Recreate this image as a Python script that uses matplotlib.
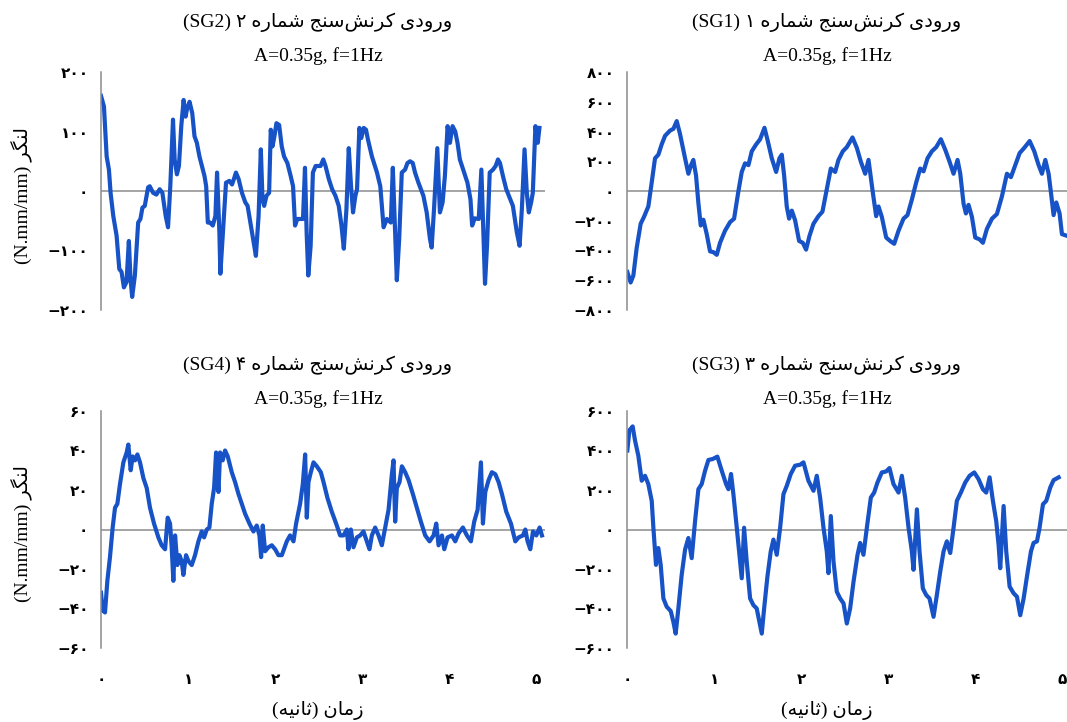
import re
import matplotlib.pyplot as plt
from matplotlib.ticker import FuncFormatter


# strain gauge SG1 (top right)
t_sg1 = [0.004, 0.042, 0.073, 0.111, 0.157, 0.195, 0.245, 0.284, 0.322, 0.36,
         0.398, 0.437, 0.494, 0.533, 0.571, 0.609, 0.667, 0.705, 0.736, 0.762,
         0.793, 0.82, 0.847, 0.877, 0.916, 0.954, 0.992, 1.031, 1.069, 1.126,
         1.184, 1.23, 1.28, 1.318, 1.356, 1.395, 1.433, 1.483, 1.529, 1.579,
         1.617, 1.663, 1.713, 1.751, 1.778, 1.805, 1.835, 1.862, 1.893, 1.931,
         1.977, 2.019, 2.057, 2.096, 2.142, 2.199, 2.245, 2.295, 2.341, 2.391,
         2.429, 2.479, 2.525, 2.59, 2.64, 2.686, 2.736, 2.774, 2.824, 2.862,
         2.889, 2.927, 2.977, 3.023, 3.069, 3.119, 3.176, 3.222, 3.272, 3.322,
         3.368, 3.406, 3.452, 3.502, 3.552, 3.605, 3.655, 3.705, 3.751, 3.797,
         3.828, 3.866, 3.893, 3.923, 3.962, 4.0, 4.05, 4.088, 4.134, 4.192,
         4.249, 4.307, 4.364, 4.41, 4.46, 4.51, 4.563, 4.625, 4.678, 4.728,
         4.766, 4.805, 4.843, 4.87, 4.9, 4.931, 4.969, 4.996, 5.057]
v_sg1 = [-545, -615, -568, -383, -220, -174, -104, 58, 220, 244,
         313, 371, 406, 418, 470, 383, 220, 116, 174, 209,
         104, -81, -232, -193, -290, -406, -411, -429, -348, -267,
         -209, -186, 0, 128, 186, 174, 267, 313, 348, 425,
         336, 220, 128, 220, 244, 104, -104, -186, -132, -197,
         -336, -348, -394, -302, -220, -169, -139, 12, 151, 128,
         209, 267, 295, 360, 290, 197, 116, 209, -12, -169,
         -104, -174, -313, -336, -355, -267, -186, -162, -58, 58,
         151, 132, 220, 267, 295, 348, 278, 197, 116, 209,
         116, -86, -151, -93, -174, -313, -325, -348, -255, -186,
         -155, -35, 116, 93, 174, 255, 290, 336, 267, 174,
         116, 209, 116, -12, -162, -77, -151, -290, -302]

# strain gauge SG2 (top left)
t_sg2 = [0.0, 0.034, 0.065, 0.091, 0.11, 0.141, 0.179, 0.21, 0.236, 0.263,
         0.293, 0.32, 0.339, 0.358, 0.389, 0.427, 0.453, 0.476, 0.503, 0.541,
         0.56, 0.598, 0.636, 0.674, 0.705, 0.743, 0.77, 0.796, 0.827, 0.846,
         0.872, 0.895, 0.922, 0.949, 0.971, 0.99, 1.017, 1.048, 1.074, 1.101,
         1.131, 1.189, 1.208, 1.227, 1.253, 1.284, 1.314, 1.333, 1.36, 1.371,
         1.398, 1.436, 1.474, 1.505, 1.531, 1.55, 1.581, 1.619, 1.657, 1.684,
         1.722, 1.76, 1.779, 1.81, 1.836, 1.855, 1.874, 1.901, 1.931, 1.95,
         1.97, 1.992, 2.015, 2.046, 2.076, 2.103, 2.141, 2.179, 2.206, 2.229,
         2.255, 2.293, 2.32, 2.343, 2.362, 2.381, 2.408, 2.434, 2.465, 2.522,
         2.553, 2.579, 2.617, 2.655, 2.693, 2.731, 2.762, 2.789, 2.819, 2.846,
         2.872, 2.895, 2.922, 2.941, 2.968, 2.99, 3.017, 3.044, 3.067, 3.112,
         3.17, 3.208, 3.246, 3.284, 3.329, 3.352, 3.375, 3.398, 3.425, 3.455,
         3.493, 3.52, 3.55, 3.581, 3.607, 3.646, 3.703, 3.741, 3.779, 3.798,
         3.825, 3.863, 3.893, 3.924, 3.95, 3.981, 4.008, 4.038, 4.069, 4.095,
         4.122, 4.16, 4.209, 4.244, 4.263, 4.293, 4.339, 4.369, 4.389, 4.411,
         4.434, 4.465, 4.503, 4.533, 4.56, 4.583, 4.617, 4.655, 4.701, 4.731,
         4.777, 4.808, 4.834, 4.865, 4.891, 4.914, 4.941, 4.96, 4.99, 5.017,
         5.036]
v_sg2 = [160, 142, 58, 36, -3, -42, -75, -131, -136, -162,
         -153, -84, -148, -178, -142, -53, -47, -28, -25, 6,
         8, -3, -6, 3, -3, -42, -61, 8, 120, 53,
         28, 42, 109, 153, 125, 139, 150, 131, 92, 81,
         58, 25, 8, -53, -53, -58, -42, 31, -70, -139,
         -75, 14, 17, 11, 22, 31, 20, -3, -19, -25,
         -58, -92, -109, -42, 70, -14, -25, -8, -3, 103,
         75, 92, 114, 111, 75, 58, 47, 25, 8, -58,
         -47, -47, -47, 39, -70, -142, -92, 31, 42, 42,
         53, 42, 20, 3, -8, -25, -58, -97, -31, 72,
         8, -36, -8, 3, 106, 89, 106, 103, 86, 58,
         31, 8, -61, -47, -53, 39, -58, -150, -81, 31,
         36, 47, 50, 47, 31, 14, -8, -36, -81, -95,
         -31, 72, -36, -19, 25, 109, 81, 109, 100, 81,
         53, 36, 14, -14, -58, -46, -47, 36, -58, -156,
         -92, 31, 36, 42, 53, 47, 25, 3, -14, -25,
         -70, -92, -31, 70, -3, -36, -19, -3, 109, 81,
         106]

# strain gauge SG3 (bottom right)
t_sg3 = [0.004, 0.027, 0.065, 0.092, 0.13, 0.169, 0.207, 0.245, 0.284, 0.303,
         0.333, 0.36, 0.387, 0.418, 0.456, 0.502, 0.533, 0.559, 0.59, 0.628,
         0.667, 0.705, 0.743, 0.782, 0.82, 0.858, 0.897, 0.935, 0.985, 1.038,
         1.088, 1.138, 1.165, 1.195, 1.222, 1.261, 1.291, 1.318, 1.345, 1.375,
         1.414, 1.452, 1.49, 1.521, 1.548, 1.575, 1.613, 1.651, 1.682, 1.72,
         1.759, 1.797, 1.835, 1.881, 1.931, 1.989, 2.027, 2.084, 2.142, 2.18,
         2.218, 2.257, 2.295, 2.314, 2.341, 2.372, 2.41, 2.448, 2.487, 2.525,
         2.563, 2.602, 2.648, 2.678, 2.716, 2.755, 2.801, 2.839, 2.877, 2.927,
         2.977, 3.015, 3.061, 3.119, 3.157, 3.195, 3.234, 3.272, 3.291, 3.33,
         3.36, 3.398, 3.437, 3.475, 3.521, 3.559, 3.598, 3.636, 3.674, 3.713,
         3.751, 3.789, 3.835, 3.885, 3.935, 3.989, 4.038, 4.088, 4.126, 4.165,
         4.203, 4.241, 4.268, 4.287, 4.326, 4.356, 4.395, 4.441, 4.479, 4.517,
         4.556, 4.594, 4.64, 4.67, 4.709, 4.739, 4.778, 4.816, 4.862, 4.9,
         4.958]
v_sg3 = [400, 502, 522, 451, 374, 247, 272, 230, 145, 9,
         -179, -94, -179, -349, -391, -413, -468, -527, -400, -230,
         -102, -43, -145, 43, 204, 230, 298, 352, 357, 369,
         298, 230, 204, 281, 179, 9, -128, -247, 9, -162,
         -349, -383, -400, -468, -527, -400, -238, -111, -51, -128,
         9, 179, 221, 281, 323, 328, 340, 247, 196, 272,
         162, 9, -111, -221, 68, -162, -315, -349, -374, -476,
         -400, -264, -128, -68, -128, 9, 162, 187, 238, 289,
         294, 311, 230, 187, 272, 162, 9, -111, -204, 102,
         -111, -298, -332, -349, -442, -332, -213, -111, -60, -119,
         9, 145, 187, 238, 272, 289, 255, 204, 187, 264,
         145, 43, -77, -196, 119, -111, -289, -323, -340, -434,
         -349, -238, -111, -68, -60, 9, 128, 145, 213, 250,
         264]

# strain gauge SG4 (bottom left)
t_sg4 = [0.0, 0.019, 0.046, 0.073, 0.103, 0.134, 0.161, 0.188, 0.218, 0.257,
         0.295, 0.314, 0.341, 0.364, 0.391, 0.418, 0.448, 0.487, 0.525, 0.563,
         0.609, 0.659, 0.697, 0.736, 0.766, 0.793, 0.812, 0.831, 0.851, 0.877,
         0.9, 0.927, 0.946, 0.977, 1.004, 1.042, 1.08, 1.119, 1.157, 1.184,
         1.215, 1.245, 1.272, 1.299, 1.322, 1.349, 1.368, 1.398, 1.425, 1.456,
         1.502, 1.54, 1.579, 1.617, 1.655, 1.705, 1.751, 1.789, 1.82, 1.839,
         1.858, 1.885, 1.923, 1.962, 2.0, 2.038, 2.077, 2.134, 2.172, 2.211,
         2.241, 2.287, 2.318, 2.345, 2.364, 2.383, 2.41, 2.441, 2.479, 2.525,
         2.556, 2.601, 2.651, 2.701, 2.747, 2.785, 2.824, 2.843, 2.87, 2.9,
         2.939, 2.977, 3.015, 3.054, 3.084, 3.111, 3.149, 3.188, 3.226, 3.264,
         3.303, 3.341, 3.36, 3.379, 3.398, 3.429, 3.456, 3.494, 3.533, 3.582,
         3.628, 3.674, 3.724, 3.774, 3.82, 3.851, 3.877, 3.916, 3.943, 3.981,
         4.031, 4.069, 4.107, 4.157, 4.203, 4.249, 4.287, 4.326, 4.364, 4.387,
         4.414, 4.452, 4.49, 4.529, 4.567, 4.605, 4.655, 4.709, 4.759, 4.797,
         4.847, 4.874, 4.9, 4.931, 4.962, 5.0, 5.038, 5.065]
v_sg4 = [-32, -41, -42, -26, -14, 1, 11, 13, 23, 34,
         39, 43, 30, 37, 35, 38, 34, 26, 21, 11,
         3, -4, -8, -10, 6, 3, -9, -26, -3, -18,
         -13, -16, -23, -13, -16, -18, -13, -6, -1, -4,
         0, 1, 13, 21, 39, 19, 39, 35, 40, 37,
         29, 24, 18, 13, 8, 3, -1, 2, -3, -14,
         2, -11, -9, -8, -10, -13, -13, -6, -3, -6,
         3, 13, 23, 38, 6, 24, 29, 34, 32, 29,
         24, 16, 9, 3, -3, -3, 0, -10, 0, -9,
         -4, -3, -1, -6, -10, -3, 1, -3, -8, 1,
         10, 28, 35, 4, 21, 24, 32, 29, 25, 18,
         11, 4, -3, -6, -3, 3, -8, -3, -10, -4,
         -3, -6, -2, 1, -3, -6, 4, 10, 34, 3,
         19, 25, 29, 28, 24, 18, 9, 3, -6, -4,
         -3, 0, -6, -10, -1, -3, 1, -3]

x_ticks = [0, 1, 2, 3, 4, 5]
title_sg1 = 'ورودی کرنش\u200cسنج شماره ۱ (SG1)'
title_sg2 = 'ورودی کرنش\u200cسنج شماره ۲ (SG2)'
title_sg3 = 'ورودی کرنش\u200cسنج شماره ۳ (SG3)'
title_sg4 = 'ورودی کرنش\u200cسنج شماره ۴ (SG4)'
subtitle = 'A=0.35g, f=1Hz'
y_label = 'لنگر (N.mm/mm)'
x_label = 'زمان (ثانیه)'


# matplotlib has no arabic shaping, so pick the presentation forms by hand
# letter: (isolated, final, initial, medial)
FORMS = {
    'ا': ('\ufe8d', '\ufe8e', None, None),
    'د': ('\ufea9', '\ufeaa', None, None),
    'ر': ('\ufead', '\ufeae', None, None),
    'ز': ('\ufeaf', '\ufeb0', None, None),
    'و': ('\ufeed', '\ufeee', None, None),
    'ث': ('\ufe99', '\ufe9a', '\ufe9b', '\ufe9c'),
    'ج': ('\ufe9d', '\ufe9e', '\ufe9f', '\ufea0'),
    'س': ('\ufeb1', '\ufeb2', '\ufeb3', '\ufeb4'),
    'ش': ('\ufeb5', '\ufeb6', '\ufeb7', '\ufeb8'),
    'ل': ('\ufedd', '\ufede', '\ufedf', '\ufee0'),
    'م': ('\ufee1', '\ufee2', '\ufee3', '\ufee4'),
    'ن': ('\ufee5', '\ufee6', '\ufee7', '\ufee8'),
    'ه': ('\ufee9', '\ufeea', '\ufeeb', '\ufeec'),
    'ک': ('\ufb8e', '\ufb8f', '\ufb90', '\ufb91'),
    'گ': ('\ufb92', '\ufb93', '\ufb94', '\ufb95'),
    'ی': ('\ufbfc', '\ufbfd', '\ufbfe', '\ufbff'),
}


def rtl(s):
    out = []
    for i, c in enumerate(s):
        if c not in FORMS:
            out.append(c)
            continue
        prev = s[i - 1] if i > 0 else ''
        nxt = s[i + 1] if i + 1 < len(s) else ''
        iso, fin, ini, med = FORMS[c]
        jp = prev in FORMS and FORMS[prev][2] is not None
        jn = ini is not None and nxt in FORMS
        out.append(med if jp and jn else fin if jp else ini if jn else iso)
    vis = ''.join(out).replace('\u200c', '')[::-1]
    vis = re.sub(r'[A-Za-z0-9./,=]+', lambda m: m.group(0)[::-1], vis)
    return vis.translate(str.maketrans('()', ')('))


FA = str.maketrans('0123456789-', '۰۱۲۳۴۵۶۷۸۹−')
fa_num = FuncFormatter(lambda v, pos: str(int(round(v))).translate(FA))

FONT = ['Liberation Serif', 'DejaVu Sans']
BLUE = '#1753c6'
GREY = '#8c8c8c'
W, H = 1067, 722


def box(x0, y0, x1, y1):
    return [x0 / W, 1 - y1 / H, (x1 - x0) / W, (y1 - y0) / H]


def draw(ax, t, v, lim, step, bottom):
    ax.plot(t, v, color=BLUE, lw=3.0, solid_joinstyle='round')
    ax.axhline(0, color=GREY, lw=1.1, zorder=1)
    ax.set_xlim(0, 5.1)
    ax.set_ylim(-lim, lim)
    ax.set_yticks(range(-lim, lim + 1, step))
    ax.yaxis.set_major_formatter(fa_num)
    for s in ['top', 'right', 'bottom']:
        ax.spines[s].set_visible(False)
    ax.spines['left'].set_color(GREY)
    ax.spines['left'].set_linewidth(1.1)
    ax.tick_params(axis='y', length=0, pad=9, labelsize=11)
    if bottom:
        ax.set_xticks(x_ticks)
        ax.xaxis.set_major_formatter(fa_num)
        ax.tick_params(axis='x', length=0, pad=17, labelsize=11)
    else:
        ax.set_xticks([])
    for lab in ax.get_xticklabels() + ax.get_yticklabels():
        lab.set_family('DejaVu Sans')
        lab.set_fontweight('bold')


fig = plt.figure(figsize=(10.67, 7.22), dpi=100)

panels = [
    (box(101, 72, 545, 310), t_sg2, v_sg2, 200, 100, title_sg2, 318, 22, False),
    (box(627, 72, 1071, 310), t_sg1, v_sg1, 800, 200, title_sg1, 827, 22, False),
    (box(101, 411, 545, 648), t_sg4, v_sg4, 60, 20, title_sg4, 318, 365, True),
    (box(627, 411, 1071, 648), t_sg3, v_sg3, 600, 200, title_sg3, 827, 365, True),
]

for rect, t, v, lim, step, title, cx, ty, bottom in panels:
    ax = fig.add_axes(rect)
    draw(ax, t, v, lim, step, bottom)
    fig.text(cx / W, 1 - ty / H, rtl(title), ha='center', va='center',
             fontsize=14, family=FONT)
    fig.text(cx / W, 1 - (ty + 34) / H, subtitle, ha='center', va='center',
             fontsize=14, family=FONT)
    if bottom:
        fig.text(cx / W, 1 - 710 / H, rtl(x_label), ha='center', va='center',
                 fontsize=14, family=FONT)

for cy in [195, 533]:
    fig.text(22 / W, 1 - cy / H, rtl(y_label), rotation=90, ha='center',
             va='center', fontsize=14, family=FONT)

fig.savefig('out.png', dpi=100, facecolor='white')
